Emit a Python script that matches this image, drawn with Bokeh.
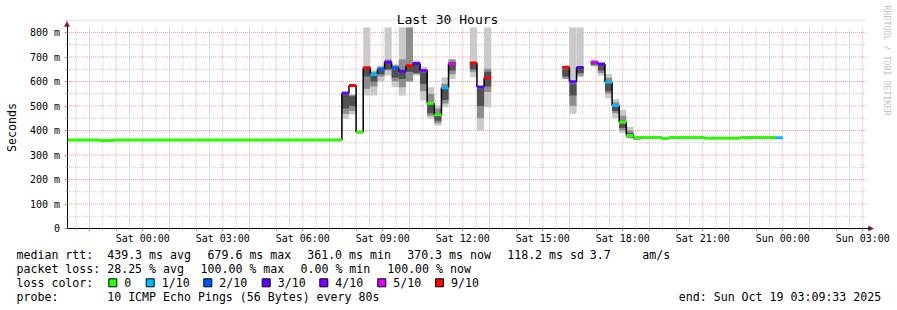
import math
from bokeh.plotting import figure
from bokeh.models import Range1d, FixedTicker, Label, LinearAxis
from bokeh.embed import file_html
from bokeh.resources import INLINE

# ---------------- data ----------------
title_text = "Last 30 Hours"
y_title = "Seconds"
watermark = "RRDTOOL / TOBI OETIKER"

# x in hours relative to Sat 2025-10-18 00:00
x_start_hour = -(2 + 50 / 60 + 27 / 3600)   # Fri 21:09:33
x_end_hour = 27 + 9 / 60 + 33 / 3600        # Sun 03:09:33
first_bin_hour = -(2 + 56 / 60)             # Fri 21:04
bin_hours = 16 / 60                         # consolidated step 960 s

x_tick_hours = [0, 3, 6, 9, 12, 15, 18, 21, 24, 27]
x_tick_labels = ["Sat 00:00", "Sat 03:00", "Sat 06:00", "Sat 09:00", "Sat 12:00",
                 "Sat 15:00", "Sat 18:00", "Sat 21:00", "Sun 00:00", "Sun 03:00"]
y_tick_values = [0.0, 0.1, 0.2, 0.3, 0.4, 0.5, 0.6, 0.7, 0.8]
y_tick_labels = ["0", "100 m", "200 m", "300 m", "400 m", "500 m", "600 m", "700 m", "800 m"]

# median rtt per 16-minute bin (seconds), None = no data
median = [
    0.361, 0.361, 0.361, 0.361, 0.361, 0.359, 0.359, 0.361, 0.361, 0.361,
    0.361, 0.361, 0.361, 0.361, 0.361, 0.361, 0.361, 0.361, 0.361, 0.361,
    0.361, 0.361, 0.361, 0.361, 0.361, 0.361, 0.361, 0.361, 0.361, 0.361,
    0.361, 0.361, 0.361, 0.361, 0.361, 0.361, 0.361, 0.361, 0.361, 0.552,
    0.584, 0.393, 0.656, 0.629, 0.650, 0.679, 0.656, 0.642, 0.664, 0.673,
    0.645, 0.511, 0.464, 0.574, 0.671, None, None, 0.676, 0.578, 0.615,
    None, None, None, None, None, None, None, None, None, None,
    0.658, 0.599, 0.657, None, 0.6796, 0.671, 0.597, 0.502, 0.434, 0.380,
    0.371, 0.371, 0.371, 0.371, 0.367, 0.371, 0.371, 0.371, 0.371, 0.371,
    0.368, 0.368, 0.368, 0.368, 0.368, 0.371, 0.371, 0.371, 0.371, 0.371,
    0.3703, None, None, None, None, None, None, None, None, None,
    None, None, None,
]
# lost pings out of 10 per bin
loss = [
    0, 0, 0, 0, 0, 0, 0, 0, 0, 0,
    0, 0, 0, 0, 0, 0, 0, 0, 0, 0,
    0, 0, 0, 0, 0, 0, 0, 0, 0, 0,
    0, 0, 0, 0, 0, 0, 0, 0, 0, 3,
    9, 0, 9, 1, 2, 3, 2, 3, 9, 3,
    4, 0, 0, 1, 5, None, None, 9, 3, 9,
    None, None, None, None, None, None, None, None, None, None,
    9, 3, 3, None, 5, 3, 1, 1, 0, 0,
    0, 0, 0, 0, 0, 0, 0, 0, 0, 0,
    0, 0, 0, 0, 0, 0, 0, 0, 0, 0,
    1, None, None, None, None, None, None, None, None, None,
    None, None, None,
]

# smoke (ping spread) for bins that show it
smoke_bins = [39, 40, 42, 43, 44, 45, 46, 47, 48, 49, 50, 51, 52, 53, 54, 57, 58, 59,
              70, 71, 72, 74, 75, 76, 77, 78, 79, 80]
light_lo = [.448, .465, .543, .543, .600, .624, .577, .543, .600, .624, .522, .447, .420, .495,
            .610, .617, .400, .495, .611, .468, .617, .660, .624, .532, .450, .390, .366, .360]
light_hi = [.560, .548, .820, .645, .665, .820, .670, .820, .820, .687, .660, .577, .502, .617,
            .692, .820, .578, .820, .658, .820, .820, .683, .676, .631, .529, .485, .414, .375]
mid_lo = [.468, .480, .570, .580, .620, .645, .600, .577, .600, .630, .560, .460, .430, .510,
          .630, .640, .450, .557, .611, .500, .625, .665, .635, .550, .470, .400, .370, .362]
mid_hi = [.555, .545, .660, .640, .660, .690, .665, .690, .820, .680, .650, .550, .490, .590,
          .690, .680, .575, .652, .654, .600, .660, .680, .672, .615, .515, .460, .400, .373]
dark_lo = [.490, .500, .620, .600, .630, .650, .615, .610, .640, .635, .590, .470, .440, .525,
           .645, .650, .500, .580, .620, .543, .635, .668, .645, .560, .480, .410, .375, .365]
dark_hi = [.545, .540, .655, .625, .645, .675, .650, .645, .660, .672, .638, .510, .470, .570,
           .680, .675, .570, .640, .650, .590, .655, .679, .668, .600, .505, .440, .390, .372]

loss_levels = [0, 1, 2, 3, 4, 5, 9]
loss_names = ["0", "1/10", "2/10", "3/10", "4/10", "5/10", "9/10"]
loss_colors = ["#26ff00", "#00b8ff", "#0059ff", "#5e00ff", "#7e00ff", "#dd00ff", "#ff0000"]

rtt_stats = ["439.3 ms avg", "679.6 ms max", "361.0 ms min", "370.3 ms now", "118.2 ms sd", "3.7", "am/s"]
loss_stats = ["28.25 % avg", "100.00 % max", "0.00 % min", "100.00 % now"]
probe_text = "10 ICMP Echo Pings (56 Bytes) every 80s"
end_text = "end: Sun Oct 19 03:09:33 2025"

# ---------------- layout (pixel geometry of the graph area) ----------------
W, H = 897, 310
FL, FR, FT, FB = 66.5, 866.5, 27, 228
PX_PER_SEC = 245.0
MONO = "DejaVu Sans Mono"
XS = (x_end_hour - x_start_hour) / (FR - FL)   # hours per pixel


def dx(px):
    return x_start_hour + (px - FL) * XS


def dy(py):
    return (FB - py) / PX_PER_SEC


YTOP = dy(FT)

p = figure(width=W, height=H, output_backend="svg", toolbar_location=None, title=None,
           x_range=Range1d(dx(0), dx(W)), y_range=Range1d(dy(H), dy(0)),
           x_axis_location=None, y_axis_location=None,
           min_border=0, min_border_left=0, min_border_right=0, min_border_top=0, min_border_bottom=0)
p.outline_line_color = None
p.background_fill_color = "white"
p.border_fill_color = "white"
p.xgrid.visible = False
p.ygrid.visible = False

# ---------------- grid ----------------
hour_ticks = list(range(-2, 28))
half_ticks = [h + 0.5 for h in range(-3, 28) if x_start_hour < h + 0.5 < x_end_hour]
minor_y = [v + 0.05 for v in y_tick_values]
grid_gray = "#c8c8c8"
grid_red = "#f0a0a0"
p.segment(x0=half_ticks, x1=half_ticks, y0=0, y1=YTOP, line_color=grid_gray, line_dash="1 1", line_width=1)
p.segment(x0=x_start_hour, x1=x_end_hour, y0=minor_y, y1=minor_y, line_color=grid_gray,
          line_dash="1 1", line_width=1)
p.segment(x0=hour_ticks, x1=hour_ticks, y0=0, y1=YTOP, line_color=grid_red, line_dash="1 1", line_width=1)
p.segment(x0=x_start_hour, x1=x_end_hour, y0=y_tick_values[1:], y1=y_tick_values[1:],
          line_color=grid_red, line_dash="1 1", line_width=1)

# ---------------- smoke ----------------
lefts = [first_bin_hour + b * bin_hours for b in smoke_bins]
rights = [l + bin_hours for l in lefts]
p.quad(left=lefts, right=rights, bottom=light_lo, top=light_hi, fill_color="#cacaca", line_color=None)
p.quad(left=lefts, right=rights, bottom=mid_lo, top=mid_hi, fill_color="#8e8e8e", line_color=None)
p.quad(left=lefts, right=rights, bottom=dark_lo, top=dark_hi, fill_color="#505050", line_color=None)

# ---------------- median line ----------------
hx0, hx1, hy = [], [], []
vx, vy0, vy1 = [], [], []
cc = []
color_of = dict(zip(loss_levels, loss_colors))
for i, m in enumerate(median):
    if m is None:
        continue
    l = max(first_bin_hour + i * bin_hours, x_start_hour + XS)
    r = first_bin_hour + (i + 1) * bin_hours
    hx0.append(l); hx1.append(r); hy.append(m)
    if i + 1 < len(median) and median[i + 1] is not None:
        vx.append(r); vy0.append(m); vy1.append(median[i + 1])
    cc.append(color_of[loss[i]])

p.segment(x0=hx0, x1=hx1, y0=hy, y1=hy, line_color="#000000", line_width=1)
p.segment(x0=vx, x1=vx, y0=vy0, y1=vy1, line_color="#000000", line_width=1.5)
p.segment(x0=hx0, x1=hx1, y0=hy, y1=hy, line_color=cc, line_width=3)

# ---------------- axes ----------------
xt = FixedTicker(ticks=hour_ticks, minor_ticks=half_ticks)
yt = FixedTicker(ticks=y_tick_values, minor_ticks=minor_y)
xlab = {h: "" for h in hour_ticks}
for h, t in zip(x_tick_hours, x_tick_labels):
    xlab[h] = t
xaxis = LinearAxis(ticker=xt, major_label_overrides=xlab, fixed_location=0.0,
                   bounds=(x_start_hour, x_end_hour + 2 * XS))
yaxis = LinearAxis(ticker=yt, major_label_overrides={v: t for v, t in zip(y_tick_values, y_tick_labels)},
                   fixed_location=x_start_hour, bounds=(0.0, dy(FT - 1)))
for ax in (xaxis, yaxis):
    ax.axis_line_color = "#000000"
    ax.major_label_text_font = MONO
    ax.major_label_text_font_size = "10px"
    ax.major_label_text_color = "#000000"
    ax.major_tick_in = 0
    ax.major_tick_out = 3
    ax.minor_tick_in = 0
    ax.minor_tick_out = 2
    ax.major_tick_line_color = "#e08080"
    ax.minor_tick_line_color = "#b8b8b8"
xaxis.major_label_standoff = 1
yaxis.major_label_standoff = 4
p.add_layout(xaxis, "below")
p.add_layout(yaxis, "left")

# axis arrows
arrow_xs = [[dx(FL - 2.5), dx(FL + 2.5), dx(FL)], [dx(FR + 1.5), dx(FR + 1.5), dx(FR + 6.5)]]
arrow_ys = [[dy(FT - 1), dy(FT - 1), dy(FT - 6)], [dy(FB - 2.5), dy(FB + 2.5), dy(FB)]]
p.patches(xs=arrow_xs, ys=arrow_ys, fill_color="#8b1a1a", line_color="#8b1a1a", line_width=0.5)


# ---------------- texts ----------------
def lab(px, py, text, size="11.6px", align="left", color="#000000", angle=0.0):
    p.add_layout(Label(x=dx(px), y=dy(py), text=text, text_font=MONO, text_font_size=size,
                       text_align=align, text_baseline="middle", text_color=color, angle=angle))


lab(447, 19, title_text, size="13px", align="center")
lab(11, 127, y_title, align="center", angle=math.pi / 2)
lab(886, 5, watermark, size="8.3px", align="left", color="#c4c4c4", angle=-math.pi / 2)

r1, r2, r3, r4 = 254.3, 268.3, 282.3, 296.0
lab(16, r1, "median rtt:")
for px, t in zip([106.7, 207, 306.7, 406.7, 506.7, 589.3, 641.7], rtt_stats):
    lab(px, r1, t)
lab(16, r2, "packet loss:")
for px, t in zip([106.7, 200, 300, 386.7], loss_stats):
    lab(px, r2, t)
lab(16, r3, "loss color:")
box_x = [108.3, 145.7, 203.3, 261.7, 319.3, 377.3, 435.0]
p.quad(left=[dx(b) for b in box_x], right=[dx(b + 8) for b in box_x],
       bottom=dy(r3 + 4), top=dy(r3 - 4), fill_color=loss_colors, line_color="#000000", line_width=1)
for bx, name in zip(box_x, loss_names):
    lab(bx + 15.5, r3, name)
lab(16, r4, "probe:")
lab(106.7, r4, probe_text)
lab(678.3, r4, end_text)

open("out.html", "w").write(file_html(p, INLINE))
